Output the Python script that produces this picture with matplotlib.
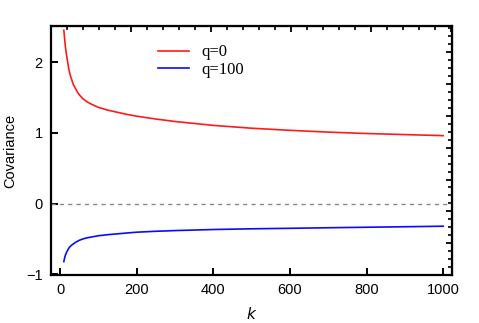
import numpy as np
import matplotlib.pyplot as plt
from matplotlib.ticker import FixedLocator, NullFormatter

# datos
k = [10, 12, 14, 17, 20, 23, 26, 30, 35, 40, 45, 50, 60, 70, 80, 100, 125, 150, 175,
     200, 250, 300, 400, 500, 600, 700, 800, 900, 1000]
cov_q0 = [2.45, 2.33, 2.22, 2.10, 2.0, 1.9, 1.83, 1.76, 1.68, 1.63, 1.58, 1.54, 1.48, 1.44, 1.41, 1.36, 1.32, 1.29, 1.26,
          1.235, 1.195, 1.16, 1.105, 1.065, 1.035, 1.01, 0.99, 0.975, 0.96]
cov_q100 = [-0.82, -0.77, -0.73, -0.69, -0.66, -0.63, -0.61, -0.59, -0.57, -0.55, -0.535, -0.52, -0.50, -0.485, -0.475, -0.455, -0.44, -0.428, -0.416,
            -0.405, -0.392, -0.382, -0.367, -0.357, -0.35, -0.342, -0.335, -0.328, -0.32]
etiquetas = ['q=0', 'q=100']

plt.rcParams['font.family'] = ['Liberation Sans', 'DejaVu Sans']

fig = plt.figure(figsize=(4.79, 3.23), dpi=100)
ax = fig.add_axes([51/479, 1-275/323, (452-51)/479, (275-26)/323])

ax.axhline(0, color='#888888', lw=1.0, ls=(0, (3, 3)))
ax.plot(k, cov_q0, color='#ff1a1a', lw=1.2, label=etiquetas[0])
ax.plot(k, cov_q100, color='#0a0aff', lw=1.2, label=etiquetas[1])

xmin, xmax = -23.5, 1023
ymin, ymax = -1.01, 2.51
ax.set_xlim(xmin, xmax)
ax.set_ylim(ymin, ymax)

ax.set_xticks([0, 200, 400, 600, 800, 1000])
ax.set_yticks([-1, 0, 1, 2])
ax.set_yticklabels(['\u22121', '0', '1', '2'])
ax.tick_params(direction='in', length=5, width=1.4, labelsize=10.5, pad=6,
               top=False, right=False)

for s in ax.spines.values():
    s.set_linewidth(1.6)

# marcas del marco superior y derecho
top = ax.secondary_xaxis('top')
top.xaxis.set_major_locator(FixedLocator(np.arange(xmin + 209, xmax, 209)))
top.xaxis.set_minor_locator(FixedLocator(np.arange(xmin + 41.8, xmax, 41.8)))
top.xaxis.set_major_formatter(NullFormatter())
top.tick_params(which='major', direction='in', length=4, width=1.3)
top.tick_params(which='minor', direction='in', length=3, width=1.2)

der = ax.secondary_yaxis('right')
der.yaxis.set_major_locator(FixedLocator(np.arange(ymin + 0.45, ymax, 0.45)))
der.yaxis.set_minor_locator(FixedLocator(np.arange(ymin + 0.1125, ymax, 0.1125)))
der.yaxis.set_major_formatter(NullFormatter())
der.tick_params(which='major', direction='in', length=4, width=1.3)
der.tick_params(which='minor', direction='in', length=3, width=1.2)

ax.set_xlabel('$k$', fontsize=11, labelpad=6)
ax.set_ylabel('Covariance', fontsize=10.5, labelpad=6)

ax.legend(loc='upper left', bbox_to_anchor=(0.229, 0.986), frameon=False,
          prop={'family': 'Liberation Serif', 'size': 12}, handlelength=1.9,
          handletextpad=0.7, labelspacing=0.1)

plt.savefig('out.png', dpi=100)
